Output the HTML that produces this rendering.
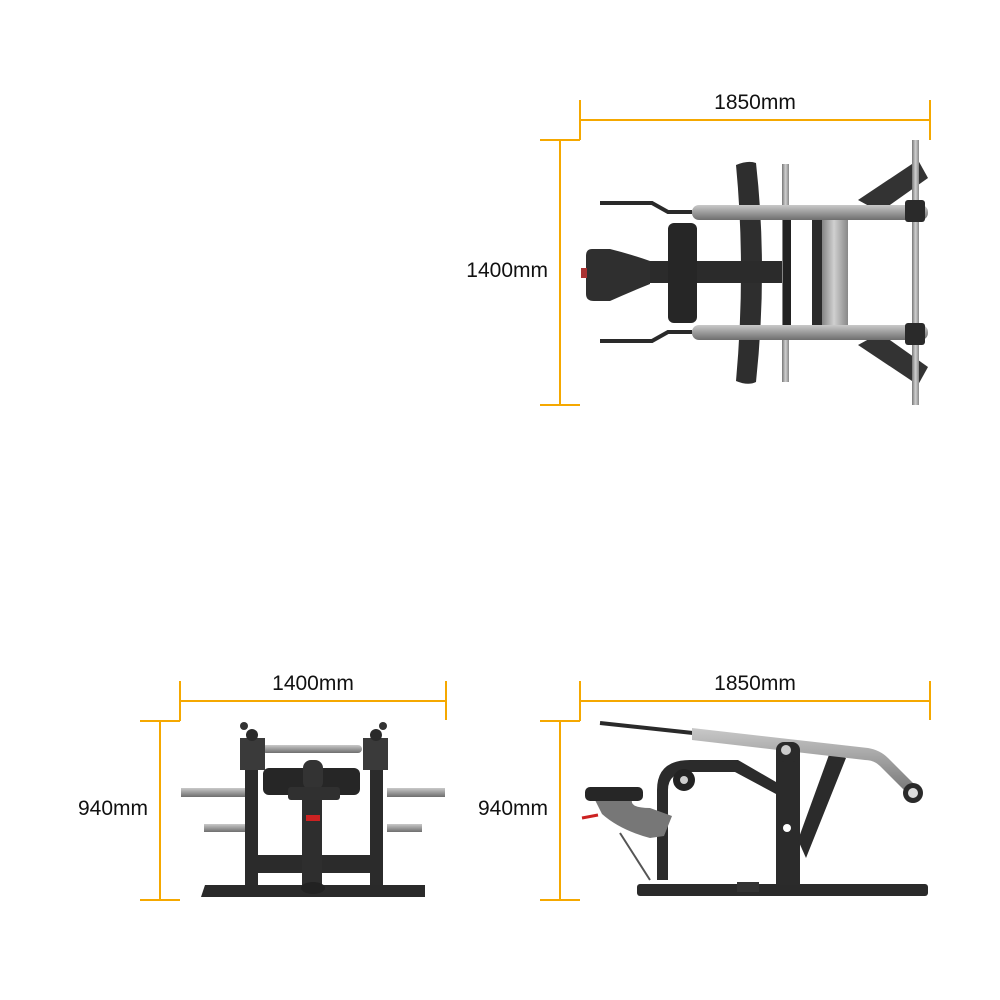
<!DOCTYPE html>
<html><head><meta charset="utf-8"><style>
html,body{margin:0;padding:0;background:#fff;}
svg{display:block;}
text{font-family:"Liberation Sans",sans-serif;font-size:21px;fill:#111;}
</style></head><body>
<svg width="1000" height="1000" viewBox="0 0 1000 1000" xmlns="http://www.w3.org/2000/svg">
<defs>
<linearGradient id="sv" x1="0" y1="0" x2="0" y2="1"><stop offset="0" stop-color="#c9c9c9"/><stop offset="0.5" stop-color="#9b9b9b"/><stop offset="1" stop-color="#6e6e6e"/></linearGradient>
<linearGradient id="svh" x1="0" y1="0" x2="1" y2="0"><stop offset="0" stop-color="#777"/><stop offset="0.5" stop-color="#d0d0d0"/><stop offset="1" stop-color="#888"/></linearGradient>
</defs>
<g stroke="#f5a800" stroke-width="2" fill="none">
<line x1="580" y1="120" x2="930" y2="120"/><line x1="580" y1="100" x2="580" y2="140"/><line x1="930" y1="100" x2="930" y2="140"/>
<line x1="560" y1="140" x2="560" y2="405"/><line x1="540" y1="140" x2="580" y2="140"/><line x1="540" y1="405" x2="580" y2="405"/>
<line x1="180" y1="701" x2="446" y2="701"/><line x1="180" y1="681" x2="180" y2="721"/><line x1="446" y1="681" x2="446" y2="720"/>
<line x1="160" y1="721" x2="160" y2="900"/><line x1="140" y1="721" x2="180" y2="721"/><line x1="140" y1="900" x2="180" y2="900"/>
<line x1="580" y1="701" x2="930" y2="701"/><line x1="580" y1="681" x2="580" y2="721"/><line x1="930" y1="681" x2="930" y2="720"/>
<line x1="560" y1="721" x2="560" y2="900"/><line x1="540" y1="721" x2="580" y2="721"/><line x1="540" y1="900" x2="580" y2="900"/>
</g>
<text x="755" y="109" text-anchor="middle">1850mm</text>
<text x="548" y="277" text-anchor="end">1400mm</text>
<text x="313" y="690" text-anchor="middle">1400mm</text>
<text x="148" y="815" text-anchor="end">940mm</text>
<text x="755" y="690" text-anchor="middle">1850mm</text>
<text x="548" y="815" text-anchor="end">940mm</text>

<!-- TOP VIEW -->
<g>
<path d="M858,200 L918,160 L928,178 L880,212 Z" fill="#333"/>
<path d="M858,345 L918,385 L928,367 L880,333 Z" fill="#333"/>
<path d="M736,165 Q748,160 756,163 Q768,270 756,382 Q748,386 736,381 Q746,270 736,165 Z" fill="#2e2e2e"/>
<rect x="782" y="164" width="7" height="218" fill="url(#svh)"/>
<rect x="912" y="140" width="7" height="265" fill="url(#svh)"/>
<rect x="783" y="220" width="8" height="108" fill="#222"/>
<rect x="820" y="220" width="28" height="108" fill="url(#svh)"/>
<rect x="812" y="220" width="10" height="108" fill="#2b2b2b"/>
<rect x="650" y="261" width="132" height="22" fill="#2b2b2b"/>
<rect x="668" y="223" width="29" height="100" rx="6" fill="#262626"/>
<path d="M592,249 Q586,249 586,256 L586,294 Q586,301 594,301 L610,301 Q630,292 650,284 L650,261 Q630,254 610,249 Z" fill="#2f2f2f"/>
<rect x="581" y="268" width="6" height="10" fill="#a33"/>
<polyline points="600,203 652,203 668,212 692,212" fill="none" stroke="#2a2a2a" stroke-width="4"/>
<polyline points="600,341 652,341 668,332 692,332" fill="none" stroke="#2a2a2a" stroke-width="4"/>
<rect x="692" y="205" width="236" height="15" rx="7" fill="url(#sv)"/>
<rect x="692" y="325" width="236" height="15" rx="7" fill="url(#sv)"/>
<rect x="905" y="200" width="20" height="22" rx="3" fill="#2a2a2a"/>
<rect x="905" y="323" width="20" height="22" rx="3" fill="#2a2a2a"/>
</g>

<!-- FRONT VIEW -->
<g>
<path d="M205,885 L425,885 L425,897 L201,897 Z" fill="#2a2a2a"/>
<rect x="245" y="745" width="13" height="140" fill="#2b2b2b"/>
<rect x="370" y="745" width="13" height="140" fill="#2b2b2b"/>
<rect x="258" y="855" width="112" height="18" fill="#2b2b2b"/>
<rect x="302" y="800" width="20" height="85" fill="#2e2e2e"/>
<ellipse cx="313" cy="888" rx="12" ry="6" fill="#222"/>
<rect x="262" y="745" width="100" height="8" rx="4" fill="url(#sv)"/>
<rect x="263" y="768" width="97" height="27" rx="6" fill="#262626"/>
<rect x="303" y="760" width="20" height="30" rx="8" fill="#333"/>
<rect x="288" y="787" width="52" height="13" rx="3" fill="#303030"/>
<rect x="306" y="815" width="14" height="6" fill="#c22"/>
<rect x="181" y="788" width="64" height="9" fill="url(#sv)"/>
<rect x="387" y="788" width="58" height="9" fill="url(#sv)"/>
<rect x="204" y="824" width="41" height="8" fill="url(#sv)"/>
<rect x="387" y="824" width="35" height="8" fill="url(#sv)"/>
<rect x="240" y="738" width="25" height="32" fill="#3a3a3a"/>
<rect x="363" y="738" width="25" height="32" fill="#3a3a3a"/>
<circle cx="244" cy="726" r="4" fill="#333"/><circle cx="383" cy="726" r="4" fill="#333"/>
<circle cx="252" cy="735" r="6" fill="#2a2a2a"/><circle cx="376" cy="735" r="6" fill="#2a2a2a"/>
</g>

<!-- SIDE VIEW -->
<g>
<rect x="637" y="884" width="291" height="12" rx="3" fill="#2a2a2a"/>
<rect x="737" y="882" width="22" height="10" fill="#333"/>
<rect x="776" y="742" width="24" height="143" fill="#2b2b2b"/>
<path d="M798,840 L830,752 L846,758 L806,858 Z" fill="#2b2b2b"/>
<path d="M657,880 L657,790 Q657,760 690,760 L738,760 L776,782 L776,794 L735,772 L690,772 Q668,772 668,790 L668,880 Z" fill="#2b2b2b"/>
<circle cx="684" cy="780" r="11" fill="#222"/><circle cx="684" cy="780" r="4" fill="#ccc"/>
<path d="M595,800 L632,800 Q630,808 650,808 L672,816 L664,836 L650,838 Q620,830 602,814 Z" fill="#777"/>
<rect x="585" y="787" width="58" height="14" rx="5" fill="#262626"/>
<line x1="582" y1="818" x2="598" y2="815" stroke="#c22" stroke-width="3"/>
<line x1="620" y1="833" x2="650" y2="880" stroke="#555" stroke-width="2"/>
<polyline points="600,723 693,733" fill="none" stroke="#2a2a2a" stroke-width="4"/>
<path d="M692,728 L868,748 Q880,750 888,758 L922,792 L914,800 L880,766 Q874,760 865,760 L692,740 Z" fill="url(#sv)"/>
<rect x="776" y="742" width="24" height="20" rx="8" fill="#2b2b2b"/>
<circle cx="786" cy="750" r="5" fill="#ccc"/>
<circle cx="787" cy="828" r="4" fill="#fff"/>
<circle cx="913" cy="793" r="10" fill="#2a2a2a"/><circle cx="913" cy="793" r="5" fill="#ddd"/>
</g>
</svg>
</body></html>
